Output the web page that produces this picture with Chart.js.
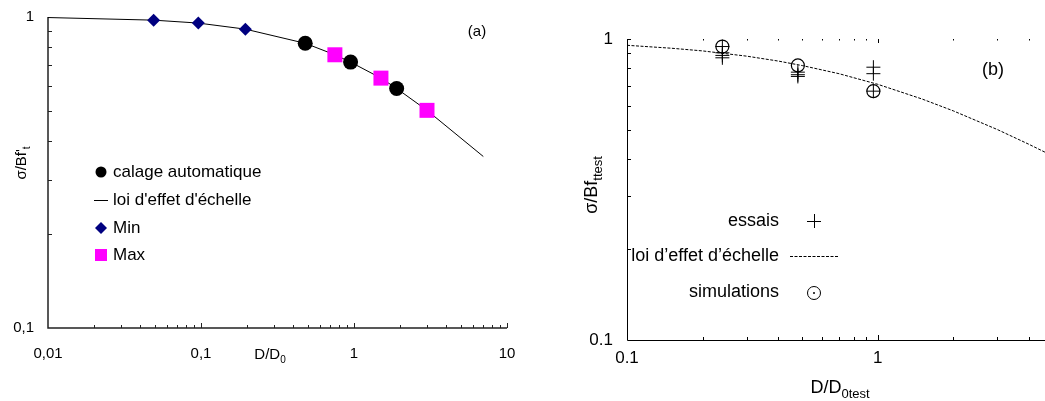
<!DOCTYPE html>
<html>
<head>
<meta charset="utf-8">
<script src="https://cdn.jsdelivr.net/npm/chart.js@4"></script>
<style>
    html, body { margin: 0; padding: 0; background: #fff; }
    #wrap { position: relative; width: 1045px; height: 401px; overflow: hidden; }
    canvas { position: absolute; top: 0; }
    #chart-a { left: 0; }
    #chart-b { left: 540px; }
</style>
</head>
<body>
<div id="wrap">
    <canvas id="chart-a" width="520" height="401"></canvas>
    <canvas id="chart-b" width="505" height="401"></canvas>
</div>
<script>
// ─── Panel (a) data ─────────────────────────────────────────
const xTicksA = [0.01, 0.1, 1, 10];
const xTickLabelsA = ['0,01', '0,1', '1', '10'];
const yTicksA = [0.1, 1];
const yTickLabelsA = ['0,1', '1'];

const lawXA = [0.01, 0.049, 0.096, 0.195, 0.48, 0.75, 0.95, 1.5, 1.9, 3, 7];
const lawYA = [0.996, 0.977, 0.956, 0.914, 0.823, 0.756, 0.716, 0.636, 0.589, 0.501, 0.356];
const calageX = [0.48, 0.95, 1.9];
const calageY = [0.823, 0.716, 0.589];
const minX = [0.049, 0.096, 0.195];
const minY = [0.977, 0.956, 0.914];
const maxX = [0.75, 1.5, 3];
const maxY = [0.756, 0.636, 0.501];

// ─── Panel (b) data ─────────────────────────────────────────
const xTicksB = [0.1, 1];
const xTickLabelsB = ['0.1', '1'];
const yTicksB = [0.1, 1];
const yTickLabelsB = ['0.1', '1'];

const essaisX = [0.24, 0.24, 0.24, 0.24, 0.48, 0.48, 0.48, 0.96, 0.96, 0.96];
const essaisY = [0.944, 0.900, 0.882, 0.866, 0.776, 0.761, 0.751, 0.806, 0.767, 0.671];
const simX = [0.24, 0.48, 0.96];
const simY = [0.944, 0.817, 0.671];
const lawXB = [0.1, 0.15, 0.2, 0.3, 0.4, 0.5, 0.7, 1, 1.5, 2, 3, 4, 5];
const lawYB = [0.953, 0.932, 0.913, 0.877, 0.845, 0.816, 0.767, 0.707, 0.632, 0.577, 0.5, 0.447, 0.408];

const FONT = '"Liberation Sans", Arial, sans-serif';

function toPts(xs, ys) {
    return xs.map((x, i) => ({ x: x, y: ys[i] }));
}

function minorTicks(lo, hi) {
    const out = [];
    for (let d = lo; d < hi; d *= 10) {
        for (let k = 2; k <= 9; k++) out.push(d * k);
    }
    return out;
}

// text with a subscript; align 'left' | 'center' | 'right'
function subText(ctx, main, sub, x, y, size, subSize, align) {
    ctx.font = size + 'px ' + FONT;
    const w1 = ctx.measureText(main).width;
    ctx.font = subSize + 'px ' + FONT;
    const w2 = ctx.measureText(sub).width;
    const w = w1 + w2;
    let x0 = x;
    if (align === 'center') x0 = x - w / 2;
    if (align === 'right') x0 = x - w;
    ctx.textAlign = 'left';
    ctx.textBaseline = 'alphabetic';
    ctx.font = size + 'px ' + FONT;
    ctx.fillText(main, x0, y);
    ctx.font = subSize + 'px ' + FONT;
    ctx.fillText(sub, x0 + w1, y + size * 0.28);
}

function text(ctx, str, x, y, size, align) {
    ctx.font = size + 'px ' + FONT;
    ctx.textAlign = align || 'center';
    ctx.textBaseline = 'middle';
    ctx.fillText(str, x, y);
}

// ─── Panel (a) axes, labels, legend ─────────────────────────
const axesA = {
    id: 'axesA',
    beforeDatasetsDraw(chart) {
        const { ctx, chartArea: a, scales: { x, y } } = chart;
        ctx.save();
        ctx.strokeStyle = '#222';
        ctx.lineWidth = 1.5;
        ctx.beginPath();
        ctx.moveTo(a.left, a.top);
        ctx.lineTo(a.left, a.bottom);
        ctx.lineTo(a.right, a.bottom);
        ctx.stroke();
        ctx.lineWidth = 1;
        ctx.beginPath();
        minorTicks(0.01, 10).forEach(v => {
            const px = Math.round(x.getPixelForValue(v)) + 0.5;
            ctx.moveTo(px, a.bottom); ctx.lineTo(px, a.bottom - 3);
        });
        [0.1, 1, 10].forEach(v => {
            const px = Math.round(x.getPixelForValue(v)) + 0.5;
            ctx.moveTo(px, a.bottom); ctx.lineTo(px, a.bottom - 5);
        });
        minorTicks(0.1, 1).forEach(v => {
            const py = Math.round(y.getPixelForValue(v)) + 0.5;
            ctx.moveTo(a.left, py); ctx.lineTo(a.left + 4, py);
        });
        ctx.stroke();
        ctx.restore();
    },
    afterDraw(chart) {
        const { ctx, chartArea: a, scales: { x, y } } = chart;
        ctx.save();
        ctx.fillStyle = '#000';
        xTicksA.forEach((v, i) => text(ctx, xTickLabelsA[i], x.getPixelForValue(v), 354, 15, 'center'));
        yTicksA.forEach((v, i) => text(ctx, yTickLabelsA[i], 34, y.getPixelForValue(v), 15, 'right'));
        subText(ctx, 'D/D', '0', 270, 359, 15, 10, 'center');

        // y title, rotated
        ctx.save();
        ctx.translate(26, 163);
        ctx.rotate(-Math.PI / 2);
        subText(ctx, "\u03c3/Bf'", 't', 0, 0, 15, 10, 'center');
        ctx.restore();

        text(ctx, '(a)', 477, 32, 15, 'center');

        // legend
        const lx = 101, tx = 113;
        const rows = [172, 200, 228, 255];
        ctx.fillStyle = '#000';
        ctx.beginPath(); ctx.arc(lx, rows[0], 5.5, 0, Math.PI * 2); ctx.fill();
        ctx.strokeStyle = '#000'; ctx.lineWidth = 1;
        ctx.beginPath(); ctx.moveTo(lx - 7, rows[1] + 0.5); ctx.lineTo(lx + 7, rows[1] + 0.5); ctx.stroke();
        ctx.fillStyle = '#000080';
        ctx.beginPath();
        ctx.moveTo(lx, rows[2] - 6); ctx.lineTo(lx + 6, rows[2]);
        ctx.lineTo(lx, rows[2] + 6); ctx.lineTo(lx - 6, rows[2]);
        ctx.closePath(); ctx.fill();
        ctx.fillStyle = '#ff00ff';
        ctx.fillRect(lx - 6, rows[3] - 6, 12, 12);
        ctx.fillStyle = '#000';
        const labels = ['calage automatique', "loi d'effet d'\u00e9chelle", 'Min', 'Max'];
        labels.forEach((s, i) => text(ctx, s, tx, rows[i], 17, 'left'));
        ctx.restore();
    }
};

// ─── Panel (b) axes, labels, legend ─────────────────────────
const axesB = {
    id: 'axesB',
    beforeDatasetsDraw(chart) {
        const { ctx, chartArea: a, scales: { x, y } } = chart;
        ctx.save();
        ctx.strokeStyle = '#000';
        ctx.lineWidth = 1;
        ctx.beginPath();
        ctx.moveTo(a.left + 0.5, a.top);
        ctx.lineTo(a.left + 0.5, a.bottom + 0.5);
        ctx.lineTo(a.right, a.bottom + 0.5);
        ctx.stroke();
        ctx.beginPath();
        const xt = minorTicks(0.1, 10).filter(v => v < x.max);
        xt.forEach(v => {
            const px = Math.round(x.getPixelForValue(v)) + 0.5;
            ctx.moveTo(px, a.bottom); ctx.lineTo(px, a.bottom - 3);
            ctx.moveTo(px, a.top); ctx.lineTo(px, a.top + 1.5);
        });
        const p1 = Math.round(x.getPixelForValue(1)) + 0.5;
        ctx.moveTo(p1, a.bottom); ctx.lineTo(p1, a.bottom - 5);
        ctx.moveTo(p1, a.top); ctx.lineTo(p1, a.top + 4);
        minorTicks(0.1, 1).concat([1]).forEach(v => {
            const py = Math.round(y.getPixelForValue(v)) + 0.5;
            ctx.moveTo(a.left, py); ctx.lineTo(a.left + 4, py);
        });
        ctx.stroke();
        ctx.restore();
    },
    afterDraw(chart) {
        const { ctx, chartArea: a, scales: { x, y } } = chart;
        ctx.save();
        ctx.fillStyle = '#000';
        xTicksB.forEach((v, i) => text(ctx, xTickLabelsB[i], x.getPixelForValue(v), 358, 17, 'center'));
        yTicksB.forEach((v, i) => text(ctx, yTickLabelsB[i], 73, y.getPixelForValue(v), 17, 'right'));
        subText(ctx, 'D/D', '0test', 300, 393, 18, 13, 'center');

        ctx.save();
        ctx.translate(57, 185);
        ctx.rotate(-Math.PI / 2);
        subText(ctx, '\u03c3/Bf', 'ttest', 0, 0, 18, 13, 'center');
        ctx.restore();

        text(ctx, '(b)', 453, 70, 18, 'center');

        // legend (text right-aligned, symbol to the right)
        const rx = 239, sx = 274;
        text(ctx, 'essais', rx, 221, 18, 'right');
        text(ctx, 'loi d\u2019effet d\u2019\u00e9chelle', rx, 256, 18, 'right');
        text(ctx, 'simulations', rx, 292, 18, 'right');
        ctx.strokeStyle = '#000';
        ctx.lineWidth = 1;
        ctx.beginPath();
        ctx.moveTo(sx - 7, 221.5); ctx.lineTo(sx + 7, 221.5);
        ctx.moveTo(sx + 0.5, 214); ctx.lineTo(sx + 0.5, 228);
        ctx.stroke();
        ctx.setLineDash([3, 1.5]);
        ctx.beginPath(); ctx.moveTo(250, 256.5); ctx.lineTo(298, 256.5); ctx.stroke();
        ctx.setLineDash([]);
        ctx.beginPath(); ctx.arc(sx, 293, 6.5, 0, Math.PI * 2); ctx.stroke();
        ctx.beginPath(); ctx.arc(sx, 293, 1, 0, Math.PI * 2); ctx.fill();
        ctx.restore();
    }
};

const baseOptions = (pad, xMin, xMax) => ({
    responsive: false,
    animation: false,
    events: [],
    layout: { padding: pad, autoPadding: false },
    plugins: { legend: { display: false }, tooltip: { enabled: false } },
    scales: {
        x: { type: 'logarithmic', bounds: 'data', min: xMin, max: xMax, display: false },
        y: { type: 'logarithmic', bounds: 'data', min: 0.1, max: 1, display: false }
    }
});

new Chart(document.getElementById('chart-a'), {
    type: 'scatter',
    data: {
        datasets: [
            { label: "loi d'effet d'échelle", data: toPts(lawXA, lawYA), showLine: true,
              borderColor: '#000', borderWidth: 1, pointRadius: 0, order: 1 },
            { label: 'calage automatique', data: toPts(calageX, calageY), pointStyle: 'circle',
              pointRadius: 7.5, backgroundColor: '#000', borderColor: '#000', borderWidth: 0, clip: false },
            { label: 'Min', data: toPts(minX, minY), pointStyle: 'rectRot',
              pointRadius: 6.5, backgroundColor: '#000080', borderColor: '#000080', borderWidth: 0, clip: false },
            { label: 'Max', data: toPts(maxX, maxY), pointStyle: 'rect',
              pointRadius: 10.6, backgroundColor: '#ff00ff', borderColor: '#ff00ff', borderWidth: 0, clip: false }
        ]
    },
    options: baseOptions({ left: 48, top: 17, right: 13, bottom: 73 }, 0.01, 10),
    plugins: [axesA]
});

new Chart(document.getElementById('chart-b'), {
    type: 'scatter',
    data: {
        datasets: [
            { label: 'loi d’effet d’échelle', data: toPts(lawXB, lawYB), showLine: true,
              borderColor: '#000', borderWidth: 1, borderDash: [3, 1.5], pointRadius: 0, order: 1 },
            { label: 'essais', data: toPts(essaisX, essaisY), pointStyle: 'cross',
              pointRadius: 7, borderColor: '#000', borderWidth: 1, clip: false },
            { label: 'simulations', data: toPts(simX, simY), pointStyle: 'circle',
              pointRadius: 6.5, backgroundColor: 'rgba(0,0,0,0)', borderColor: '#000', borderWidth: 1.2, clip: false }
        ]
    },
    options: baseOptions({ left: 87, top: 39, right: 0, bottom: 61 }, 0.1, 4.64),
    plugins: [axesB]
});
</script>
</body>
</html>
